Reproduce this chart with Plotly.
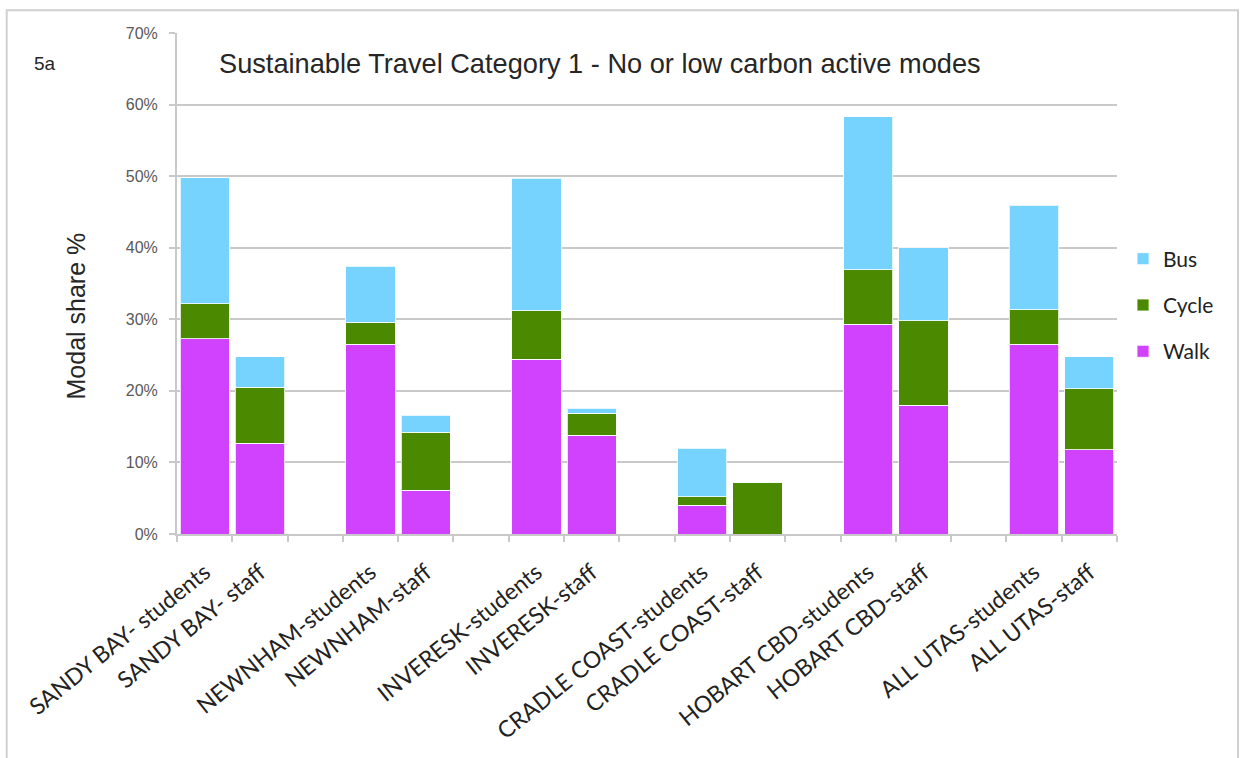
import plotly.graph_objects as go

# Campus / cohort categories; blank entries separate the campus pairs
categories = [
    "SANDY BAY- students", "SANDY BAY- staff", " ",
    "NEWNHAM-students", "NEWNHAM-staff", "  ",
    "INVERESK-students", "INVERESK-staff", "   ",
    "CRADLE COAST-students", "CRADLE COAST-staff", "    ",
    "HOBART CBD-students", "HOBART CBD-staff", "     ",
    "ALL UTAS-students", "ALL UTAS-staff",
]

# Modal share (%) by mode
walk = [27.3, 12.7, None, 26.5, 6.1, None, 24.4, 13.8, None, 4.0, 0.0, None, 29.3, 18.0, None, 26.5, 11.8]
cycle = [4.9, 7.8, None, 3.1, 8.1, None, 6.8, 3.1, None, 1.2, 7.2, None, 7.6, 11.8, None, 4.8, 8.5]
bus = [17.6, 4.3, None, 7.8, 2.4, None, 18.5, 0.7, None, 6.8, 0.0, None, 21.4, 10.2, None, 14.6, 4.5]

y_ticks = [0, 10, 20, 30, 40, 50, 60, 70]
y_tick_labels = ["0%", "10%", "20%", "30%", "40%", "50%", "60%", "70%"]

GRID = "#c9c9c9"
SANS = "Liberation Sans, Arial, sans-serif"
HUMANIST = "Lato, Carlito, sans-serif"

fig = go.Figure()
for name, vals, color, rank in [
    ("Walk", walk, "#d042fe", 3),
    ("Cycle", cycle, "#4b8a00", 2),
    ("Bus", bus, "#76d3fe", 1),
]:
    fig.add_trace(go.Bar(
        x=categories, y=vals, name=name, legendgroup=name, legendrank=rank,
        marker=dict(color=color, line=dict(color="rgba(255,255,255,0.8)", width=1)),
    ))

fig.update_layout(
    barmode="stack",
    bargap=0.11,
    width=1244, height=758,
    margin=dict(l=177, r=127, t=33, b=224),
    paper_bgcolor="white", plot_bgcolor="white",
    showlegend=True,
    legend=dict(
        x=1.0064, xanchor="left", y=0.457, yanchor="middle",
        traceorder="grouped", tracegroupgap=16,
        font=dict(family=HUMANIST, size=21, color="#222"),
    ),
    xaxis=dict(
        type="category", categoryorder="array", categoryarray=categories,
        tickson="boundaries", ticks="outside", ticklen=6, tickcolor=GRID, tickwidth=2,
        showline=True, linecolor=GRID, linewidth=2,
        showgrid=False, tickangle=-39, ticklabelstandoff=14,
        tickfont=dict(family=HUMANIST, size=23, color="#222"),
    ),
    yaxis=dict(
        range=[0, 70], tickvals=y_ticks, ticktext=y_tick_labels,
        showgrid=True, gridcolor=GRID, gridwidth=2,
        ticks="outside", ticklen=6, tickcolor=GRID, tickwidth=2,
        showline=True, linecolor=GRID, linewidth=2,
        zeroline=False, ticklabelstandoff=8,
        tickfont=dict(family=SANS, size=16, color="#595959"),
    ),
    font=dict(family=SANS),
)

# Chart title inside the plot area
fig.add_annotation(
    text="Sustainable Travel Category 1 - No or low carbon active modes",
    xref="paper", yref="paper", x=(600 - 177) / 940, y=(534.5 - 64) / 501,
    xanchor="center", yanchor="middle", showarrow=False,
    font=dict(family=SANS, size=27.2, color="#262626"),
)
# Panel label
fig.add_annotation(
    text="5a", xref="paper", yref="paper", x=(32 - 177) / 940, y=(534.5 - 64) / 501,
    xanchor="left", yanchor="middle", showarrow=False,
    font=dict(family=SANS, size=19, color="#262626"),
)
# Y axis title
fig.add_annotation(
    text="Modal share %", xref="paper", yref="paper", x=(75 - 177) / 940, y=(534.5 - 317) / 501,
    xanchor="center", yanchor="middle", showarrow=False, textangle=-90,
    font=dict(family=SANS, size=25, color="#262626"),
)
# Outer chart frame
fig.add_shape(
    type="rect", xref="paper", yref="paper",
    x0=(6.7 - 177) / 940, x1=(1238 - 177) / 940,
    y0=(534.5 - 800) / 501, y1=(534.5 - 10.7) / 501,
    line=dict(color="#d0d0d0", width=2), fillcolor="rgba(0,0,0,0)", layer="below",
)

fig.write_html("out.html")
